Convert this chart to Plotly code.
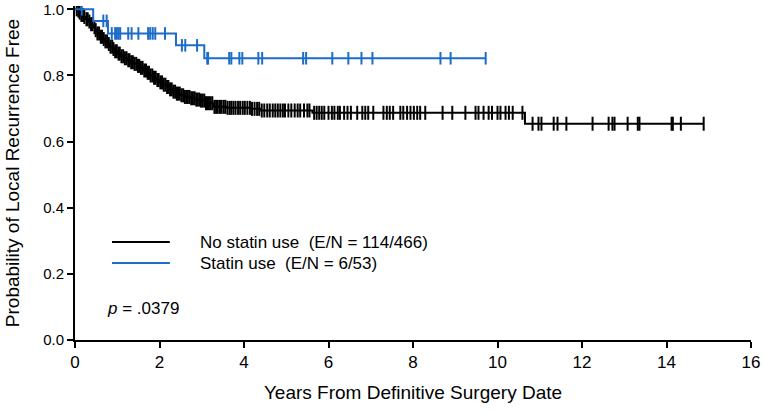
import numpy as np
import plotly.graph_objects as go

# Kaplan-Meier step points (time in years, survival after the step)
no_statin_t = [0.00, 0.05, 0.10, 0.15, 0.20, 0.26, 0.31, 0.36, 0.42, 0.47, 0.53, 0.59, 0.65,
               0.71, 0.77, 0.83, 0.89, 0.95, 1.01, 1.07, 1.15, 1.23, 1.31, 1.39, 1.47, 1.54,
               1.62, 1.70, 1.78, 1.86, 1.94, 2.01, 2.09, 2.17, 2.25, 2.33, 2.41, 2.49, 2.60,
               2.72, 2.85, 2.96, 3.10, 3.27, 3.60, 4.15, 4.38, 5.62, 10.65]
no_statin_s = [1.000, 0.996, 0.990, 0.983, 0.977, 0.970, 0.963, 0.955, 0.946, 0.937, 0.927,
               0.917, 0.910, 0.903, 0.895, 0.887, 0.880, 0.873, 0.866, 0.858, 0.852, 0.846,
               0.840, 0.835, 0.829, 0.823, 0.815, 0.808, 0.800, 0.793, 0.786, 0.779, 0.772,
               0.765, 0.758, 0.751, 0.745, 0.740, 0.735, 0.731, 0.727, 0.724, 0.716, 0.705,
               0.702, 0.699, 0.694, 0.687, 0.654]
no_statin_end = 14.88
no_statin_cens = [0.04, 0.08, 0.11, 0.15, 0.19, 0.22, 0.27, 0.30, 0.34, 0.38, 0.41, 0.46, 0.49,
                  0.53, 0.57, 0.61, 0.64, 0.68, 0.72, 0.76, 0.80, 0.84, 0.88, 0.91, 0.95, 0.99,
                  1.03, 1.06, 1.10, 1.14, 1.18, 1.22, 1.26, 1.29, 1.33, 1.37, 1.41, 1.45, 1.49,
                  1.52, 1.56, 1.60, 1.64, 1.68, 1.72, 1.75, 1.79, 1.83, 1.87, 1.91, 1.95, 1.98,
                  2.02, 2.06, 2.10, 2.14, 2.18, 2.21, 2.25, 2.29, 2.33, 2.37, 2.41, 2.44, 2.48,
                  2.52, 2.56, 2.60, 2.64, 2.67, 2.71, 2.75, 2.79, 2.83, 2.87, 2.90, 2.94, 2.98,
                  3.02, 3.06, 3.10, 3.13, 3.17, 3.21, 3.25, 3.30, 3.34, 3.38, 3.43, 3.47, 3.52,
                  3.56, 3.61, 3.66, 3.70, 3.75, 3.80, 3.86, 3.91, 3.97, 4.02, 4.08, 4.14, 4.19,
                  4.25, 4.31, 4.36, 4.42, 4.48, 4.55, 4.61, 4.68, 4.74, 4.80, 4.86, 4.92, 4.97,
                  5.05, 5.12, 5.20, 5.27, 5.33, 5.42, 5.50, 5.55, 5.66, 5.72, 5.78, 5.84, 5.90,
                  6.00, 6.08, 6.14, 6.22, 6.27, 6.37, 6.45, 6.53, 6.68, 6.80, 6.87, 6.94, 7.06,
                  7.30, 7.38, 7.45, 7.53, 7.70, 7.77, 7.86, 7.94, 8.02, 8.10, 8.17, 8.29, 8.70,
                  8.93, 9.24, 9.48, 9.55, 9.67, 9.79, 9.87, 10.00, 10.07, 10.19, 10.27, 10.36,
                  10.59, 10.83, 10.97, 11.04, 11.33, 11.42, 11.63, 12.25, 12.63, 12.72, 12.77,
                  13.08, 13.32, 13.36, 14.12, 14.15, 14.34, 14.88]

statin_t = [0.00, 0.43, 0.78, 2.39, 3.06]
statin_s = [1.000, 0.965, 0.927, 0.891, 0.852]
statin_end = 9.72
statin_cens = [0.16, 0.67, 0.75, 0.87, 0.95, 0.99, 1.03, 1.07, 1.26, 1.34, 1.50, 1.73, 1.78,
               1.84, 1.90, 2.13, 2.53, 2.61, 2.89, 3.13, 3.15, 3.65, 3.70, 3.89, 3.96, 4.34,
               4.43, 5.40, 5.47, 6.09, 6.47, 6.78, 7.04, 8.65, 8.89, 9.72]

BLACK = "#000000"
BLUE = "#1d6cc8"


def step_xy(t, s, end):
    return list(t) + [end], list(s) + [s[-1]]


def cens_y(t, s, c):
    idx = np.searchsorted(np.array(t), np.array(c), side="right") - 1
    return np.array(s)[idx]


fig = go.Figure()
for t, s, end, cens, col, msize in [(no_statin_t, no_statin_s, no_statin_end, no_statin_cens, BLACK, 10),
                                    (statin_t, statin_s, statin_end, statin_cens, BLUE, 9)]:
    x, y = step_xy(t, s, end)
    fig.add_trace(go.Scatter(x=x, y=y, mode="lines", line=dict(color=col, width=2, shape="hv"),
                             showlegend=False, hoverinfo="skip"))
    fig.add_trace(go.Scatter(x=cens, y=cens_y(t, s, cens), mode="markers",
                             marker=dict(symbol="line-ns", size=msize, line=dict(color=col, width=2)),
                             showlegend=False, hoverinfo="skip"))

# legend drawn by hand, as in the source figure
legend = [("No statin use  (E/N = 114/466)", BLACK, 0.2934),
          ("Statin use  (E/N = 6/53)", BLUE, 0.2305)]
for label, col, yy in legend:
    fig.add_shape(type="line", xref="paper", yref="paper", x0=0.0547, x1=0.1403, y0=yy, y1=yy,
                  line=dict(color=col, width=2))
    fig.add_annotation(text=label, xref="paper", yref="paper", x=0.1817, y=yy, xanchor="left",
                       yanchor="middle", showarrow=False, font=dict(size=17, color="#000"))
fig.add_annotation(text="<i>p</i> = .0379", xref="paper", yref="paper", x=0.0443, y=0.0958,
                   xanchor="left", yanchor="middle", showarrow=False, font=dict(size=17, color="#000"))

axis_common = dict(showgrid=False, zeroline=False, showline=True, linecolor="black", linewidth=2,
                   ticks="outside", ticklen=6, tickwidth=2, tickcolor="black", automargin=False)
fig.update_xaxes(range=[0, 16], tickvals=list(range(0, 17, 2)),
                 title=dict(text="Years From Definitive Surgery Date", standoff=14,
                            font=dict(size=19)),
                 tickfont=dict(size=17), **axis_common)
fig.update_yaxes(range=[0, 1.01], tickvals=[0, 0.2, 0.4, 0.6, 0.8, 1.0], tickformat=".1f",
                 title=dict(text="Probability of Local Recurrence Free", standoff=18,
                            font=dict(size=19)),
                 tickfont=dict(size=15), **axis_common)
fig.update_layout(width=765, height=412, margin=dict(l=75, r=14, t=6, b=72),
                  plot_bgcolor="white", paper_bgcolor="white",
                  font=dict(family="Liberation Sans, Arial", color="black"))
fig.write_html("out.html", config={"displayModeBar": False},
               post_script="document.body.style.margin='0';")
